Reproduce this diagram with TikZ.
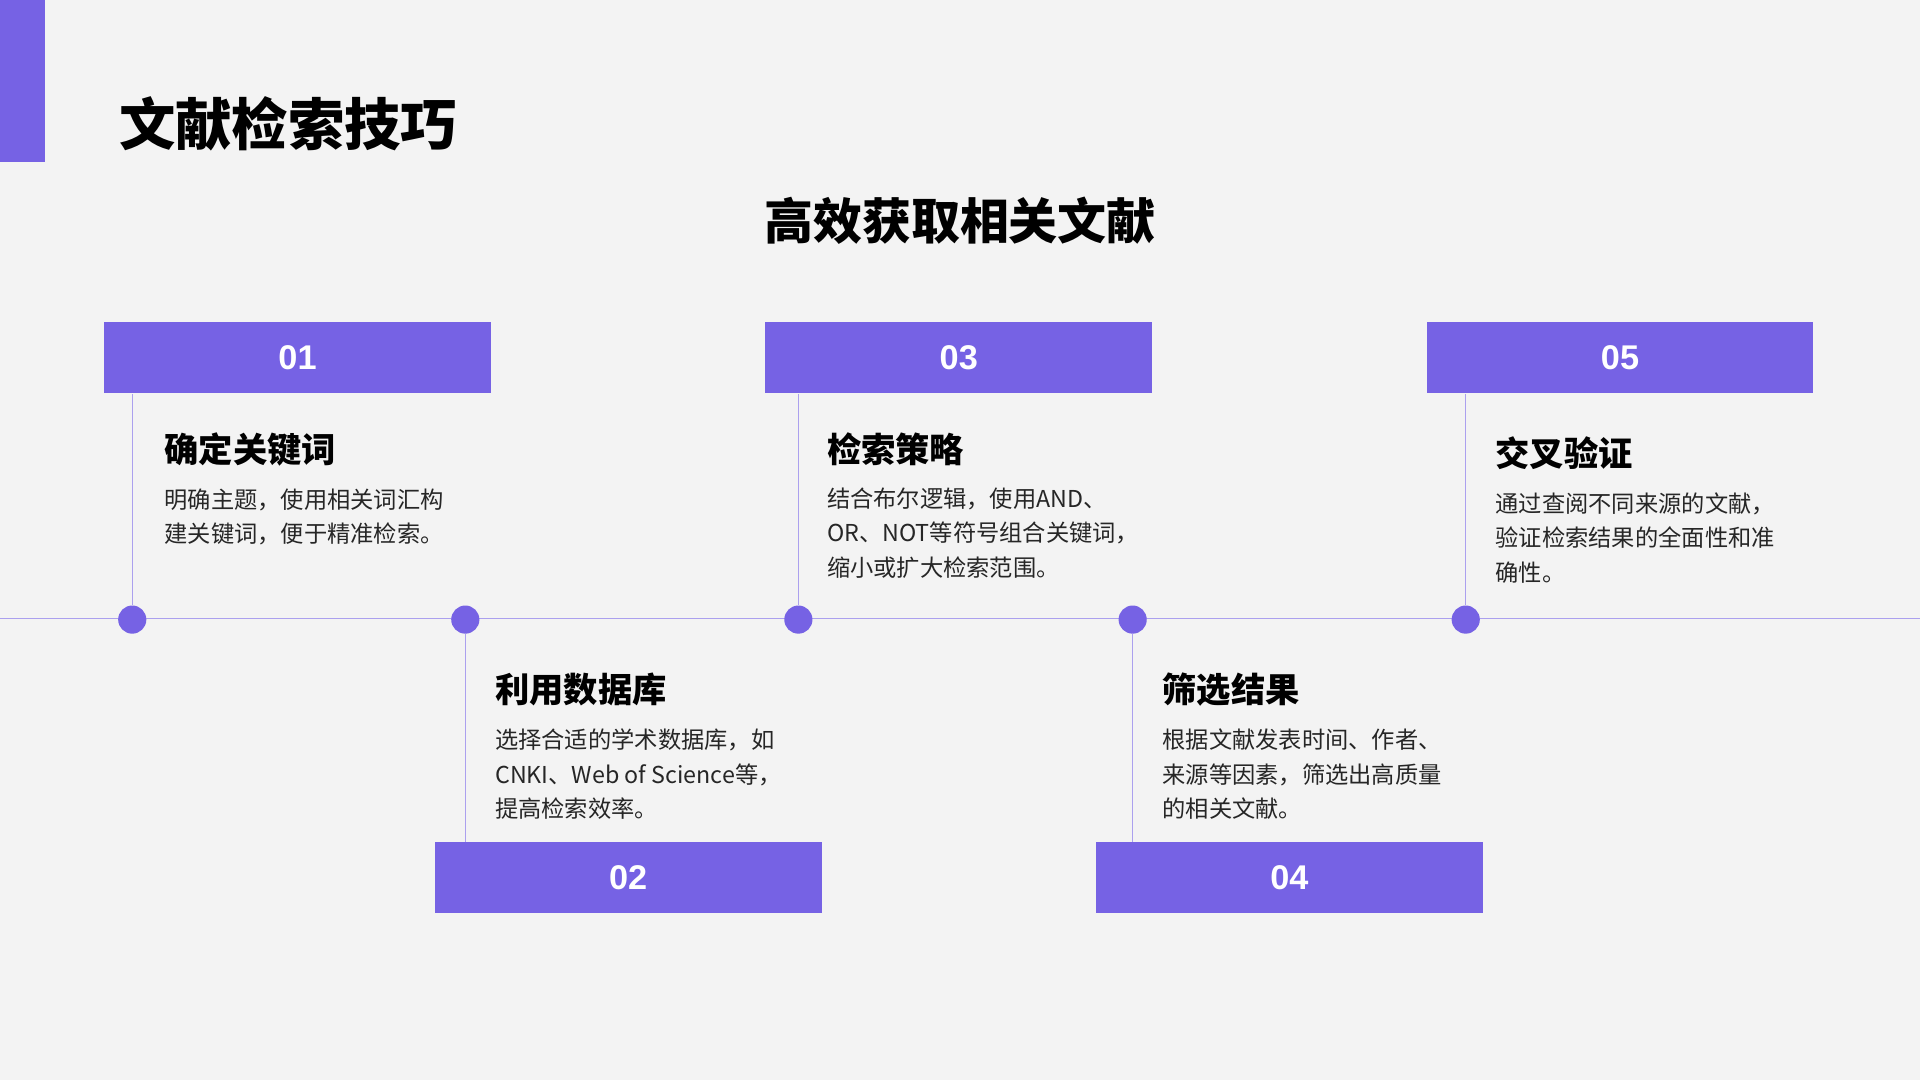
\documentclass[tikz,border=0pt]{standalone}
\usepackage{fontspec}
\setmainfont{Noto Sans CJK SC}
\newfontfamily\numfont{Liberation Sans}
\definecolor{bg}{HTML}{F3F3F3}
\definecolor{pu}{HTML}{7662E4}
\definecolor{pl}{HTML}{ABA0EE}
\begin{document}
\begin{tikzpicture}[x=0.5pt,y=-0.5pt,
  numbox/.style={fill=pu,draw=none,minimum width=158pt,minimum height=29pt,inner sep=0,text=white,font=\numfont\fontsize{14}{14}\selectfont\bfseries},
  head/.style={anchor=west,inner sep=0,font=\fontsize{14}{14}\selectfont\bfseries,text=black},
  body/.style={anchor=north west,inner sep=0,align=left,font=\fontsize{9.5}{14}\selectfont,text=black!85},
  dot/.style={circle,fill=pu,minimum size=11.5pt,inner sep=0},
  vline/.style={draw=pl,line width=0.6pt}]
\fill[bg] (0,0) rectangle (1568,882);
\useasboundingbox (0,0) rectangle (1568,882);
\fill[pu] (0,0) rectangle (37,132);
\node[anchor=west,inner sep=0,font=\fontsize{23}{23}\selectfont\bfseries] (title) at (97,101) {文献检索技巧};
\node[inner sep=0,font=\fontsize{20}{20}\selectfont\bfseries] (sub) at (784,180) {高效获取相关文献};
\coordinate (L) at (0,505); \coordinate (R) at (1568,505);
\draw[vline] (L) -- (R);
\foreach \i/\x in {1/108,2/380,3/652,4/925,5/1197}{\node[dot] (d\i) at (\x,506) {};}
\node[numbox] (b1) at (243,292) {01};
\node[numbox] (b3) at (783,292) {03};
\node[numbox] (b5) at (1323,292) {05};
\node[numbox] (b2) at (513,717) {02};
\node[numbox] (b4) at (1053,717) {04};
\draw[vline] (d1) -- (d1|-b1.south);
\draw[vline] (d3) -- (d3|-b3.south);
\draw[vline] (d5) -- (d5|-b5.south);
\draw[vline] (d2) -- (d2|-b2.north);
\draw[vline] (d4) -- (d4|-b4.north);
\node[head] (h1) at (134,367) {确定关键词};
\node[body] (t1) at (134,399) {明确主题，使用相关词汇构\\建关键词，便于精准检索。};
\node[head] (h3) at (675,367) {检索策略};
\node[body] (t3) at (675,398) {结合布尔逻辑，使用AND、\\OR、NOT等符号组合关键词，\\缩小或扩大检索范围。};
\node[head] (h5) at (1221,370) {交叉验证};
\node[body] (t5) at (1221,402) {通过查阅不同来源的文献，\\验证检索结果的全面性和准\\确性。};
\node[head] (h2) at (404,563) {利用数据库};
\node[body] (t2) at (404,595) {选择合适的学术数据库，如\\CNKI、Web of Science等，\\提高检索效率。};
\node[head] (h4) at (949,563) {筛选结果};
\node[body] (t4) at (949,595) {根据文献发表时间、作者、\\来源等因素，筛选出高质量\\的相关文献。};
\end{tikzpicture}
\end{document}
